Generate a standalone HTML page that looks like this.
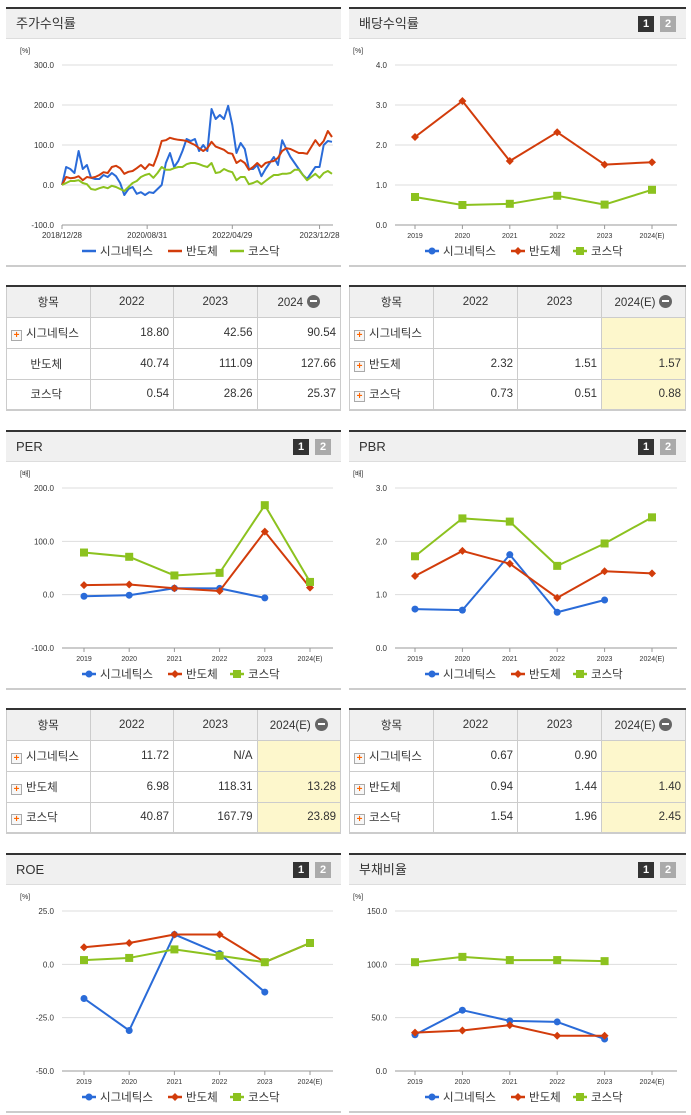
<!DOCTYPE html>
<html><head><meta charset="utf-8">
<style>
*{margin:0;padding:0;box-sizing:border-box}
body{width:691px;height:1115px;background:#fff;position:relative;overflow:hidden;font-family:"Liberation Sans","Noto Sans CJK KR",sans-serif;color:#333}
.panel{position:absolute;border-top:2px solid #333;border-bottom:2px solid #ccc;height:260px}
.hdr{height:30px;background:#f0f0f0;border-bottom:1px solid #ddd;font-size:13px;line-height:30px;padding-left:10px;position:relative}
.btns{position:absolute;right:10px;top:7px;line-height:16px;height:16px}
.b{display:inline-block;width:16px;height:16px;font-size:11px;font-weight:bold;color:#fff;text-align:center;line-height:16px;margin-left:6px;vertical-align:top}
table{position:absolute;border-collapse:collapse;border-top:2px solid #333;border-bottom:2px solid #ccc;font-size:11.5px;table-layout:fixed}
td,th{border:1px solid #ccc;height:31px;font-weight:normal}
th{background:#f0f0f0;text-align:center}
td{text-align:right;padding-right:4px}
td.n{text-align:left;padding-left:4px}
td.c{text-align:center}
.y{background:#fdf7cc}
.p{display:inline-block;width:11px;height:11px;border:1px solid #aaa;background:#f7f7f7;color:#f60;font-size:10px;line-height:9px;text-align:center;font-weight:bold;margin-right:4px;vertical-align:-1px}
.m{display:inline-block;width:13px;height:13px;border-radius:50%;background:#666;vertical-align:-2px;margin-left:4px;position:relative}
.m:after{content:"";position:absolute;left:3px;top:5.5px;width:7px;height:2px;background:#fff}
svg{position:absolute;left:0;top:0}
</style></head><body>

<div class="panel" style="left:6px;top:7px;width:335px"><div class="hdr">주가수익률</div></div>
<div class="panel" style="left:349px;top:7px;width:337px"><div class="hdr">배당수익률<span class="btns"><span class="b" style="background:#333">1</span><span class="b" style="background:#aaa">2</span></span></div></div>
<div class="panel" style="left:6px;top:430px;width:335px"><div class="hdr">PER<span class="btns"><span class="b" style="background:#333">1</span><span class="b" style="background:#aaa">2</span></span></div></div>
<div class="panel" style="left:349px;top:430px;width:337px"><div class="hdr">PBR<span class="btns"><span class="b" style="background:#333">1</span><span class="b" style="background:#aaa">2</span></span></div></div>
<div class="panel" style="left:6px;top:853px;width:335px"><div class="hdr">ROE<span class="btns"><span class="b" style="background:#333">1</span><span class="b" style="background:#aaa">2</span></span></div></div>
<div class="panel" style="left:349px;top:853px;width:337px"><div class="hdr">부채비율<span class="btns"><span class="b" style="background:#333">1</span><span class="b" style="background:#aaa">2</span></span></div></div>

<table style="left:6px;top:285px;width:335px">
<tr><th>항목</th><th>2022</th><th>2023</th><th>2024<span class="m"></span></th></tr>
<tr><td class="n"><span class="p">+</span>시그네틱스</td><td>18.80</td><td>42.56</td><td>90.54</td></tr>
<tr><td class="c">반도체</td><td>40.74</td><td>111.09</td><td>127.66</td></tr>
<tr><td class="c">코스닥</td><td>0.54</td><td>28.26</td><td>25.37</td></tr>
</table>
<table style="left:349px;top:285px;width:337px">
<tr><th>항목</th><th>2022</th><th>2023</th><th>2024(E)<span class="m"></span></th></tr>
<tr><td class="n"><span class="p">+</span>시그네틱스</td><td></td><td></td><td class="y"></td></tr>
<tr><td class="n"><span class="p">+</span>반도체</td><td>2.32</td><td>1.51</td><td class="y">1.57</td></tr>
<tr><td class="n"><span class="p">+</span>코스닥</td><td>0.73</td><td>0.51</td><td class="y">0.88</td></tr>
</table>
<table style="left:6px;top:708px;width:335px">
<tr><th>항목</th><th>2022</th><th>2023</th><th>2024(E)<span class="m"></span></th></tr>
<tr><td class="n"><span class="p">+</span>시그네틱스</td><td>11.72</td><td>N/A</td><td class="y"></td></tr>
<tr><td class="n"><span class="p">+</span>반도체</td><td>6.98</td><td>118.31</td><td class="y">13.28</td></tr>
<tr><td class="n"><span class="p">+</span>코스닥</td><td>40.87</td><td>167.79</td><td class="y">23.89</td></tr>
</table>
<table style="left:349px;top:708px;width:337px">
<tr><th>항목</th><th>2022</th><th>2023</th><th>2024(E)<span class="m"></span></th></tr>
<tr><td class="n"><span class="p">+</span>시그네틱스</td><td>0.67</td><td>0.90</td><td class="y"></td></tr>
<tr><td class="n"><span class="p">+</span>반도체</td><td>0.94</td><td>1.44</td><td class="y">1.40</td></tr>
<tr><td class="n"><span class="p">+</span>코스닥</td><td>1.54</td><td>1.96</td><td class="y">2.45</td></tr>
</table>

<svg id="s" width="691" height="1115" xmlns="http://www.w3.org/2000/svg"></svg>

<script>
// Stock return (price) series
const priceDates = ["2018/12/28","2020/08/31","2022/04/29","2023/12/28"];
const priceDateIdx = [0,20.5,41,62];
const priceSig = [0,45,40,30,85,40,50,18,15,15,25,20,30,22,5,-25,-10,-5,-22,-18,-25,-18,-20,-10,0,55,80,45,60,85,115,110,115,85,100,85,190,165,175,165,198,150,80,105,90,40,40,50,22,40,55,70,50,112,90,70,55,40,25,15,30,45,45,100,110,108];
const priceSemi = [0,20,17,18,22,12,20,18,20,25,32,30,45,48,42,28,33,35,42,50,40,52,48,75,110,112,118,115,113,112,110,105,100,92,85,92,108,96,92,88,80,78,55,62,55,38,45,55,45,55,58,60,68,85,92,90,85,80,80,78,95,112,98,110,135,120];
const priceKosdaq = [0,5,10,10,12,5,2,-10,-12,-8,-5,-8,-2,-5,-10,-15,-5,5,10,20,25,28,18,30,45,38,38,42,45,45,52,55,55,52,48,45,55,30,32,40,35,32,12,20,20,2,5,10,2,10,18,25,25,28,28,30,38,38,25,12,20,28,18,30,35,28];
const years = ["2019","2020","2021","2022","2023","2024(E)"];
const divSemi = [2.2,3.1,1.6,2.32,1.51,1.57];
const divKosdaq = [0.7,0.5,0.53,0.73,0.51,0.88];
const perSig = [-3,-1,12,11.72,-6];
const perSemi = [18,19,12,6.98,118.31,13.28];
const perKosdaq = [79,71,36,40.87,167.79,23.89];
const pbrSig = [0.73,0.71,1.75,0.67,0.90];
const pbrSemi = [1.35,1.82,1.58,0.94,1.44,1.40];
const pbrKosdaq = [1.72,2.43,2.37,1.54,1.96,2.45];
const roeSig = [-16,-31,14,5,-13];
const roeSemi = [8,10,14,14,1,10];
const roeKosdaq = [2,3,7,4,1,10];
const debtSig = [34,57,47,46,30];
const debtSemi = [36,38,43,33,33];
const debtKosdaq = [102,107,104,104,103];
const priceTicks = [-100,0,100,200,300];
const divTicks = [0,1,2,3,4];
const perTicks = [-100,0,100,200];
const pbrTicks = [0,1,2,3];
const roeTicks = [-50,-25,0,25];
const debtTicks = [0,50,100,150];

const NS="http://www.w3.org/2000/svg", S=document.getElementById('s');
const COL={sig:"#2a6bd8",semi:"#d23c0b",kos:"#8cc21f"};
function el(t,a,p){const e=document.createElementNS(NS,t);for(const k in a)e.setAttribute(k,a[k]);(p||S).appendChild(e);return e;}
function txt(x,y,s,a,p){const e=el('text',Object.assign({x:x,y:y,'font-size':8,fill:'#333','font-family':'Liberation Sans, Noto Sans CJK KR, sans-serif'},a),p);e.textContent=s;return e;}
function marker(g,kind,x,y,c){
  if(kind==='sig'){const m=el('circle',{cx:x,cy:y,r:3.5,fill:c},g);}
  else if(kind==='semi'){const m=el('polygon',{points:`${x},${y-4} ${x+4},${y} ${x},${y+4} ${x-4},${y}`,fill:c},g);}
  else{const m=el('rect',{x:x-4,y:y-4,width:8,height:8,fill:c},g);}
}
function chart(o){
  const g=el('g',{});
  
  
  const min=o.ticks[0],max=o.ticks[o.ticks.length-1];
  const ys=v=>o.yBot-(v-min)/(max-min)*(o.yBot-o.yTop);
  const u=txt(o.x0-42,o.yTop-12,o.unit,{'font-size':7},g);
  
  o.ticks.forEach(t=>{
    const l=el('line',{x1:o.x0,x2:o.x1,y1:ys(t),y2:ys(t),stroke:t===min?'#999':'#ddd','stroke-width':1},g);
    
    const s=txt(o.x0-8,ys(t)+3,t.toFixed(1),{'text-anchor':'end'},g);
    
  });
  const xs=o.xs;
  o.xlabels.forEach((lab,i)=>{
    const x=o.xlabPos(i);
    el('line',{x1:x,x2:x,y1:o.yBot,y2:o.yBot+4,stroke:'#999'},g);
    const s=txt(x,o.yBot+13,lab,{'text-anchor':'middle','font-size':o.xfs||7},g);
    
  });
  o.series.forEach(se=>{
    const pts=se.v.map((v,i)=>xs(i)+','+ys(v)).join(' ');
    const pl=el('polyline',{points:pts,fill:'none',stroke:COL[se.k],'stroke-width':2,'stroke-linejoin':'round'},g);
    
    if(o.markers)se.v.forEach((v,i)=>marker(g,se.k,xs(i),ys(v),COL[se.k]));
  });
  const names=[['sig','시그네틱스'],['semi','반도체'],['kos','코스닥']];
  let lx=o.legX, ly=o.yBot+26;
  names.forEach(([k,n])=>{
    const lg=el('g',{},g);
    
    el('line',{x1:lx,x2:lx+14,y1:ly,y2:ly,stroke:COL[k],'stroke-width':2.5},lg);
    if(o.markers)marker(lg,k,lx+7,ly,COL[k]);
    txt(lx+18,ly+4,n,{'font-size':11.5},lg);
    lx+=18+n.length*12+8;
  });
}
const np=priceSig.length, px=i=>62+i*(332-62)/(np-1);
chart({name:'stock-return-chart',x0:62,x1:333,yTop:65,yBot:225,ticks:priceTicks,unit:'[%]',
  xs:px,xlabels:priceDates,xlabPos:i=>px(priceDateIdx[i]),xfs:8,legX:82,markers:false,
  series:[{k:'sig',v:priceSig},{k:'semi',v:priceSemi},{k:'kos',v:priceKosdaq}]});
const rx=i=>415+i*47.4, lx2=i=>84+i*45.2;
chart({name:'dividend-chart',x0:395,x1:677,yTop:65,yBot:225,ticks:divTicks,unit:'[%]',xs:rx,xlabels:years,xlabPos:rx,legX:425,markers:true,
  series:[{k:'semi',v:divSemi},{k:'kos',v:divKosdaq}]});
chart({name:'per-chart',x0:62,x1:333,yTop:488,yBot:648,ticks:perTicks,unit:'[배]',xs:lx2,xlabels:years,xlabPos:lx2,legX:82,markers:true,
  series:[{k:'sig',v:perSig},{k:'semi',v:perSemi},{k:'kos',v:perKosdaq}]});
chart({name:'pbr-chart',x0:395,x1:677,yTop:488,yBot:648,ticks:pbrTicks,unit:'[배]',xs:rx,xlabels:years,xlabPos:rx,legX:425,markers:true,
  series:[{k:'sig',v:pbrSig},{k:'semi',v:pbrSemi},{k:'kos',v:pbrKosdaq}]});
chart({name:'roe-chart',x0:62,x1:333,yTop:911,yBot:1071,ticks:roeTicks,unit:'[%]',xs:lx2,xlabels:years,xlabPos:lx2,legX:82,markers:true,
  series:[{k:'sig',v:roeSig},{k:'semi',v:roeSemi},{k:'kos',v:roeKosdaq}]});
chart({name:'debt-ratio-chart',x0:395,x1:677,yTop:911,yBot:1071,ticks:debtTicks,unit:'[%]',xs:rx,xlabels:years,xlabPos:rx,legX:425,markers:true,
  series:[{k:'sig',v:debtSig},{k:'semi',v:debtSemi},{k:'kos',v:debtKosdaq}]});
</script>
</body></html>
